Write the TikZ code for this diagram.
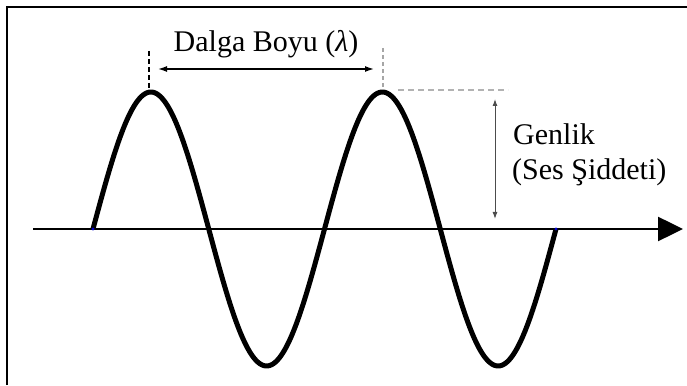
\documentclass[tikz,border=0pt]{standalone}
\usepackage{fontspec}
\setmainfont{Liberation Serif}
\usetikzlibrary{arrows.meta}
\tikzset{
  frame/.style={line width=2.2pt,black},
  wave/.style={line width=5pt,black,line join=round},
  axis/.style={line width=2.5pt,black,-{Triangle[length=25pt,width=24pt]}},
  guide/.style={line width=1.3pt,black,dash pattern=on 5pt off 3pt},
  guidegray/.style={line width=1.3pt,gray!70,dash pattern=on 4pt off 3pt},
  hdash/.style={line width=2pt,gray!60,dash pattern=on 6pt off 4pt},
  dimarrow/.style={line width=1.4pt,black,{Latex[length=9pt,width=6pt]}-{Latex[length=9pt,width=6pt]}},
  amparrow/.style={line width=1pt,gray!60!black,{Latex[length=7pt,width=5pt]}-{Latex[length=7pt,width=5pt]}},
  lbl/.style={font=\fontsize{30}{35}\selectfont,inner sep=0pt}
}
\begin{document}
\begin{tikzpicture}[x=1pt,y=1pt]
\useasboundingbox (0,0) rectangle (687,385);
% frame (top and left visible)
\draw[frame] (7,0) -- (7,378) -- (687,378);
% key points
\coordinate (start) at (93,156);
\coordinate (stop) at (556,156);
\coordinate (axisL) at (33,156);
\coordinate (axisR) at (683,156);
% axis
\draw[axis] (axisL) -- (axisR);
% wave
\draw[wave] plot[domain=93:556,samples=240,smooth] (\x,{156+137*sin((\x-93)/231.5*360)});
\fill[blue!80!black] (start) circle (1.6);
\fill[blue!80!black] (stop) circle (1.6);
% wavelength guides
\coordinate (gA) at (149,334);
\coordinate (gB) at (383,337);
\draw[guide] (gA) -- (149,297);
\draw[guidegray] (gB) -- (383,297);
\coordinate (wl1) at (158,316);
\coordinate (wl2) at (374,316);
\draw[dimarrow] (wl1) -- (wl2);
\node[lbl,anchor=base] (wlab) at (266,333) {Dalga Boyu ({\itshape λ})};
% amplitude
\coordinate (h1) at (398,295);
\coordinate (h2) at (508,295);
\draw[hdash] (h1) -- (h2);
\coordinate (a1) at (495,286);
\coordinate (a2) at (495,166);
\draw[amparrow] (a1) -- (a2);
\node[lbl,anchor=base west] (gen) at (513,240) {Genlik};
\node[lbl,anchor=base west] (ses) at (512,205) {(Ses Şiddeti)};
\end{tikzpicture}
\end{document}
